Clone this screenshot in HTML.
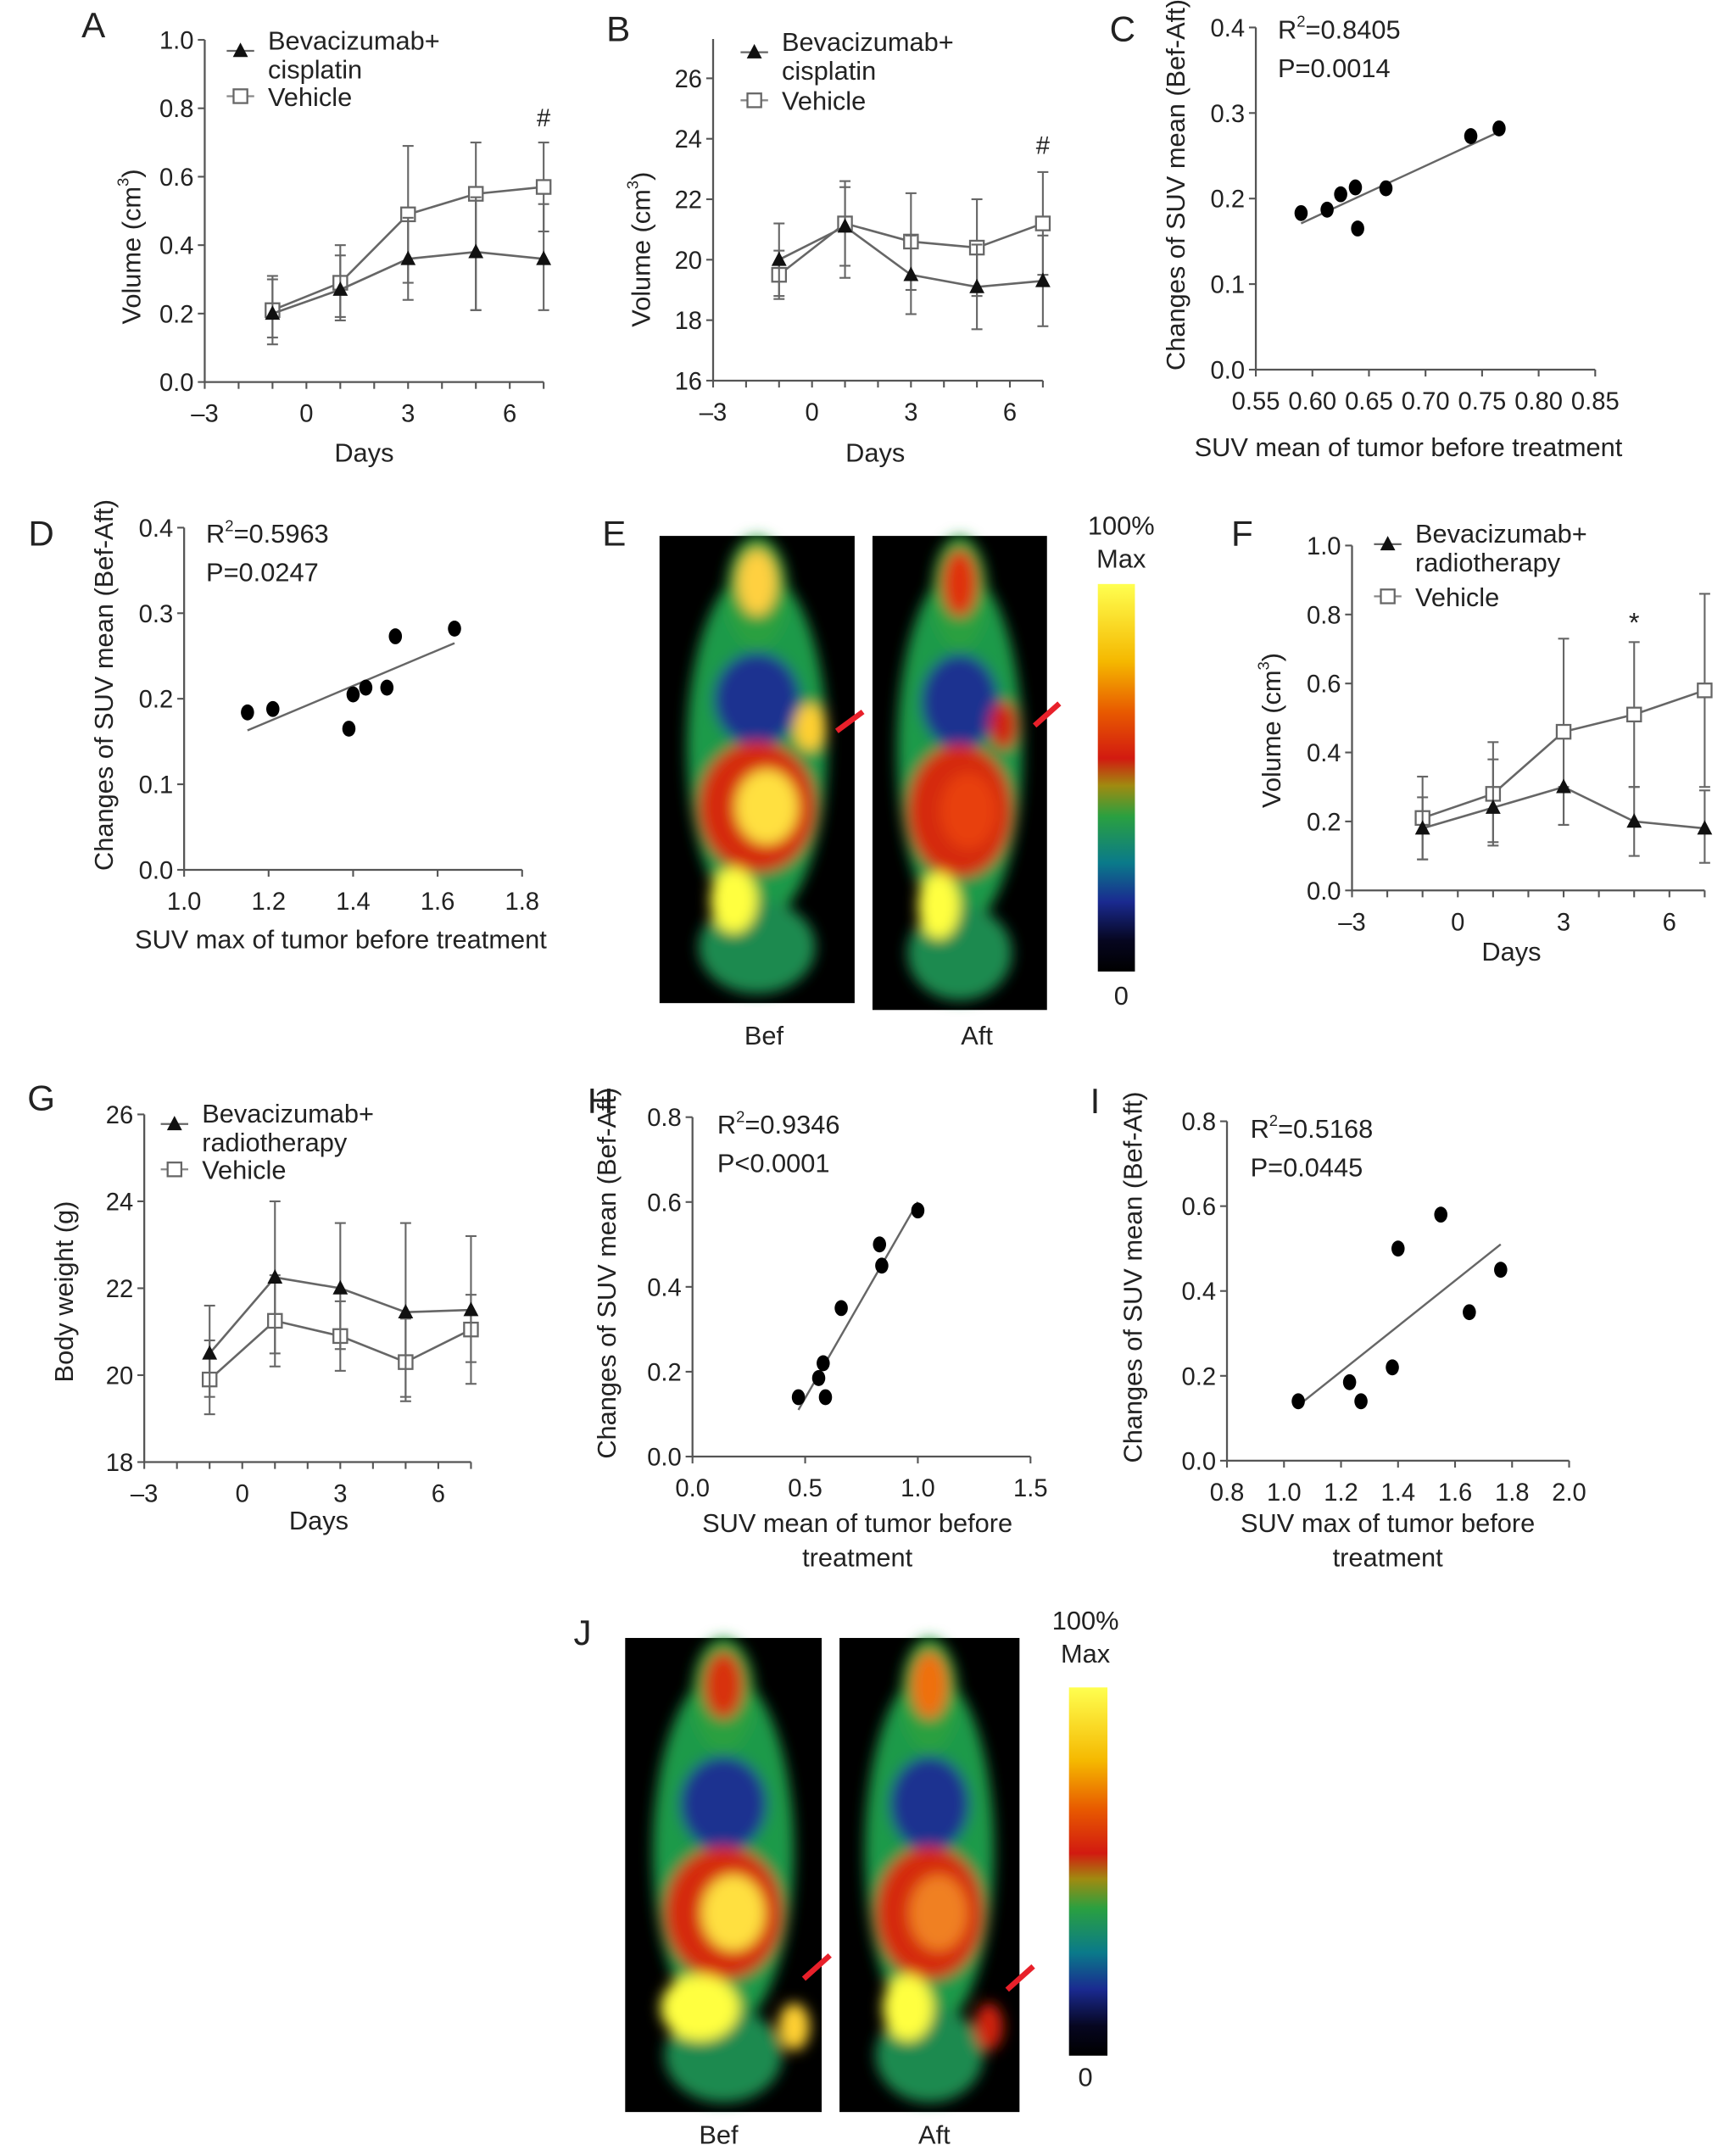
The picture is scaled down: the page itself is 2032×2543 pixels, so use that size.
<!DOCTYPE html>
<html><head><meta charset="utf-8"><style>
html,body{margin:0;padding:0;background:#fff}
svg{display:block}
text{font-family:"Liberation Sans",sans-serif;fill:#222}
</style></head><body>
<svg id="fig" xmlns="http://www.w3.org/2000/svg" width="2032" height="2543" viewBox="0 0 1254 1569" preserveAspectRatio="none">
<defs>
<linearGradient id="cbar" x1="0" y1="0" x2="0" y2="1">
<stop offset="0" stop-color="#ffff50"/><stop offset="0.2" stop-color="#f5b800"/><stop offset="0.33" stop-color="#e85a00"/><stop offset="0.45" stop-color="#d21a10"/><stop offset="0.52" stop-color="#a08a10"/><stop offset="0.6" stop-color="#2aa040"/><stop offset="0.72" stop-color="#0a7a8a"/><stop offset="0.82" stop-color="#1a2a90"/><stop offset="0.92" stop-color="#060620"/><stop offset="1" stop-color="#000"/>
</linearGradient>
<filter id="bl" x="-30%" y="-30%" width="160%" height="160%"><feGaussianBlur stdDeviation="5"/></filter>
</defs>
</svg>
<script>
// ---------- data ----------
const days = [-1, 1, 3, 5, 7];
const dayTicks = [-3, 0, 3, 6];
// Panel A
const aVehicle = [0.21, 0.29, 0.49, 0.55, 0.57];
const aVehicleUp = [0.30, 0.40, 0.69, 0.70, 0.70];
const aVehicleDn = [0.13, 0.19, 0.29, 0.21, 0.44];
const aBev = [0.20, 0.27, 0.36, 0.38, 0.36];
const aBevUp = [0.31, 0.37, 0.48, 0.54, 0.52];
const aBevDn = [0.11, 0.18, 0.24, 0.21, 0.21];
const aYTicks = [0.0, 0.2, 0.4, 0.6, 0.8, 1.0];
// Panel B
const bVehicle = [19.5, 21.2, 20.6, 20.4, 21.2];
const bVehicleUp = [20.3, 22.6, 22.2, 22.0, 22.9];
const bVehicleDn = [18.7, 19.8, 19.0, 18.8, 19.5];
const bBev = [20.0, 21.1, 19.5, 19.1, 19.3];
const bBevUp = [21.2, 22.4, 20.8, 20.5, 20.8];
const bBevDn = [18.8, 19.4, 18.2, 17.7, 17.8];
const bYTicks = [16, 18, 20, 22, 24, 26];
// Panel F
const fVehicle = [0.21, 0.28, 0.46, 0.51, 0.58];
const fVehicleUp = [0.33, 0.43, 0.73, 0.72, 0.86];
const fVehicleDn = [0.09, 0.13, 0.19, 0.30, 0.30];
const fBev = [0.18, 0.24, 0.30, 0.20, 0.18];
const fBevUp = [0.27, 0.38, 0.30, 0.30, 0.29];
const fBevDn = [0.09, 0.14, 0.19, 0.10, 0.08];
// Panel G
const gBev = [20.5, 22.25, 22.0, 21.45, 21.5];
const gBevUp = [21.6, 24.0, 23.5, 23.5, 23.2];
const gBevDn = [19.5, 20.5, 20.6, 19.5, 20.3];
const gVehicle = [19.9, 21.25, 20.9, 20.3, 21.05];
const gVehicleUp = [20.8, 22.3, 21.7, 21.3, 21.85];
const gVehicleDn = [19.1, 20.2, 20.1, 19.4, 19.8];
const gYTicks = [18, 20, 22, 24, 26];
// Panel C
const cX = [0.59, 0.613, 0.625, 0.638, 0.640, 0.665, 0.740, 0.765];
const cY = [0.183, 0.187, 0.205, 0.213, 0.165, 0.212, 0.273, 0.282];
const cFitX = [0.59, 0.765];
const cFitY = [0.171, 0.278];
const cXTicks = [0.55, 0.60, 0.65, 0.70, 0.75, 0.80, 0.85];
const suvYTicks4 = [0.0, 0.1, 0.2, 0.3, 0.4];
// Panel D
const dX = [1.15, 1.21, 1.39, 1.40, 1.43, 1.48, 1.50, 1.64];
const dY = [0.184, 0.188, 0.165, 0.205, 0.213, 0.213, 0.273, 0.282];
const dFitX = [1.15, 1.64];
const dFitY = [0.163, 0.265];
const dXTicks = [1.0, 1.2, 1.4, 1.6, 1.8];
// Panel H
const hX = [0.47, 0.56, 0.58, 0.59, 0.66, 0.83, 0.84, 1.00];
const hY = [0.14, 0.185, 0.22, 0.14, 0.35, 0.50, 0.45, 0.58];
const hFitX = [0.47, 1.0];
const hFitY = [0.11, 0.60];
const hXTicks = [0.0, 0.5, 1.0, 1.5];
const suvYTicks8 = [0.0, 0.2, 0.4, 0.6, 0.8];
// Panel I
const iX = [1.05, 1.23, 1.27, 1.38, 1.40, 1.55, 1.65, 1.76];
const iY = [0.14, 0.185, 0.14, 0.22, 0.50, 0.58, 0.35, 0.45];
const iFitX = [1.05, 1.76];
const iFitY = [0.13, 0.51];
const iXTicks = [0.8, 1.0, 1.2, 1.4, 1.6, 1.8, 2.0];

// ---------- helpers ----------
const svg = document.getElementById('fig');
const NS = 'http://www.w3.org/2000/svg';
function el(tag, attrs, name, parent) {
  const e = document.createElementNS(NS, tag);
  for (const k in attrs) e.setAttribute(k, attrs[k]);
  
  
  (parent || svg).appendChild(e);
  return e;
}
function txt(x, y, s, name, opts, parent) {
  const o = Object.assign({x: x, y: y, 'font-size': 18, 'text-anchor': 'middle'}, opts || {});
  const t = el('text', o, name, parent);
  t.textContent = s;
  return t;
}
function sup(x, y, base, supTxt, rest, name, size, parent) {
  const t = el('text', {x: x, y: y, 'font-size': size, 'text-anchor': 'start'}, name, parent);
  const a = document.createElementNS(NS, 'tspan'); a.textContent = base; t.appendChild(a);
  const b = document.createElementNS(NS, 'tspan'); b.setAttribute('font-size', size * 0.6); b.setAttribute('dy', -size * 0.45); b.textContent = supTxt; t.appendChild(b);
  const c = document.createElementNS(NS, 'tspan'); c.setAttribute('dy', size * 0.45); c.textContent = rest; t.appendChild(c);
  return t;
}
function axes(g, sx, sy, xmin, xmax, ymin, ymax, xt, yt, xfmt, yfmt, minorX) {
  el('line', {x1: sx(xmin), y1: sy(ymin), x2: sx(xmin), y2: sy(ymax), stroke: '#555', 'stroke-width': 1.4}, 'y-axis', g);
  el('line', {x1: sx(xmin), y1: sy(ymin), x2: sx(xmax), y2: sy(ymin), stroke: '#555', 'stroke-width': 1.4}, 'x-axis', g);
  yt.forEach(v => {
    el('line', {x1: sx(xmin) - 5, y1: sy(v), x2: sx(xmin), y2: sy(v), stroke: '#555', 'stroke-width': 1.3}, 'y-tick', g);
    txt(sx(xmin) - 8, sy(v) + 6.5, yfmt(v), 'y-tick-label', {'text-anchor': 'end'}, g);
  });
  (minorX || xt).forEach(v => {
    el('line', {x1: sx(v), y1: sy(ymin), x2: sx(v), y2: sy(ymin) + 5, stroke: '#555', 'stroke-width': 1.3}, 'x-tick', g);
  });
  xt.forEach(v => {
    txt(sx(v), sy(ymin) + 29, xfmt(v), 'x-tick-label', {}, g);
  });
}
function tri(g, x, y, name) {
  el('path', {d: `M${x} ${y - 6}L${x + 5.5} ${y + 4.5}L${x - 5.5} ${y + 4.5}Z`, fill: '#111'}, name, g);
}
function sq(g, x, y, name) {
  el('rect', {x: x - 5, y: y - 5, width: 10, height: 10, fill: '#fff', stroke: '#666', 'stroke-width': 1.4}, name, g);
}
function series(g, sx, sy, vals, up, dn, kind, name) {
  const pts = days.map((d, i) => sx(d) + ',' + sy(vals[i])).join(' ');
  el('polyline', {points: pts, fill: 'none', stroke: '#666', 'stroke-width': 1.6}, name + '-line', g);
  days.forEach((d, i) => {
    const x = sx(d);
    el('line', {x1: x, y1: sy(up[i]), x2: x, y2: sy(dn[i]), stroke: '#666', 'stroke-width': 1.3}, name + '-error-bar', g);
    el('line', {x1: x - 4, y1: sy(up[i]), x2: x + 4, y2: sy(up[i]), stroke: '#666', 'stroke-width': 1.3}, name + '-error-cap', g);
    el('line', {x1: x - 4, y1: sy(dn[i]), x2: x + 4, y2: sy(dn[i]), stroke: '#666', 'stroke-width': 1.3}, name + '-error-cap', g);
  });
  days.forEach((d, i) => {
    if (kind === 'tri') tri(g, sx(d), sy(vals[i]), name + '-point');
    else sq(g, sx(d), sy(vals[i]), name + '-point');
  });
}
function legend(g, x, y, l1, l2, vy) {
  el('line', {x1: x - 10, y1: y, x2: x + 10, y2: y, stroke: '#666', 'stroke-width': 1.4}, 'legend-line', g);
  tri(g, x, y, 'legend-marker-treatment');
  txt(x + 20, y - 1, l1, 'legend-label-treatment', {'text-anchor': 'start', 'font-size': 19}, g);
  txt(x + 20, y + 20, l2, 'legend-label-treatment-2', {'text-anchor': 'start', 'font-size': 19}, g);
  el('line', {x1: x - 10, y1: vy, x2: x + 10, y2: vy, stroke: '#888', 'stroke-width': 1.4}, 'legend-line', g);
  sq(g, x, vy, 'legend-marker-vehicle');
  txt(x + 20, vy + 7, 'Vehicle', 'legend-label-vehicle', {'text-anchor': 'start', 'font-size': 19}, g);
}
function ylab(g, x, y, s, name) {
  txt(x, y, s, name, {transform: `rotate(-90 ${x} ${y})`, 'font-size': 19}, g);
}
function lin(p0, v0, p1, v1) { return v => p0 + (v - v0) * (p1 - p0) / (v1 - v0); }
const f1 = v => v.toFixed(1), f2 = v => v.toFixed(2), f0 = v => String(v), fd = v => v < 0 ? '\u2013' + (-v) : String(v);
const minorDays = [-3, -2, -1, 0, 1, 2, 3, 4, 5, 6, 7];

function lineChart(name, letter, lx, ly, sx, sy, ymin, ymax, yt, yfmt, A, B, legendPos, legTxt, ylabelPos, ylabelTxt, daysPos) {
  const g = el('g', {}, name);
  txt(lx, ly, letter, 'panel-label', {'font-size': 26}, g);
  axes(g, sx, sy, -3, 7, ymin, ymax, dayTicks, yt, fd, yfmt, minorDays);
  series(g, sx, sy, A[0], A[1], A[2], 'sq', 'vehicle');
  series(g, sx, sy, B[0], B[1], B[2], 'tri', 'treatment');
  legend(g, legendPos[0], legendPos[1], 'Bevacizumab+', legTxt, legendPos[2]);
  if (ylabelTxt[1]) sup(0, 0, ylabelTxt[0], ylabelTxt[1], ylabelTxt[2], 'y-axis-title', 19, g).setAttribute('transform', `translate(${ylabelPos[0]} ${ylabelPos[1]}) rotate(-90)`);
  else ylab(g, ylabelPos[0], ylabelPos[1], ylabelTxt[0], 'y-axis-title');
  txt(daysPos[0], daysPos[1], 'Days', 'x-axis-title', {'font-size': 19}, g);
  return g;
}

// Panel A
{
  const sx = lin(149, -3, 371, 6), sy = lin(278, 0, 29, 1.0);
  const g = lineChart('panel-a', 'A', 68, 27, sx, sy, 0, 1.0, aYTicks, f1,
    [aVehicle, aVehicleUp, aVehicleDn], [aBev, aBevUp, aBevDn], [175, 37, 70], 'cisplatin',
    [102, 236], ['Volume (cm', '3', ')'], [265, 336]);
  txt(sx(7), 92, '#', 'significance-mark', {'font-size': 18}, g);
}
// Panel B
{
  const sx = lin(519, -3, 735, 6), sy = lin(277, 16, 57, 26);
  const g = lineChart('panel-b', 'B', 450, 30, sx, sy, 16, 27.3, bYTicks, f0,
    [bVehicle, bVehicleUp, bVehicleDn], [bBev, bBevUp, bBevDn], [549, 38, 73], 'cisplatin',
    [473, 238], ['Volume (cm', '3', ')'], [637, 336]);
  txt(sx(7), 112, '#', 'significance-mark', {'font-size': 18}, g);
}
// Panel F
{
  const sx = lin(984, -3, 1215, 6), sy = lin(648, 0, 397, 1.0);
  const g = lineChart('panel-f', 'F', 904, 397, sx, sy, 0, 1.0, aYTicks, f1,
    [fVehicle, fVehicleUp, fVehicleDn], [fBev, fBevUp, fBevDn], [1010, 396, 434], 'radiotherapy',
    [932, 588], ['Volume (cm', '3', ')'], [1100, 699]);
  txt(sx(5), 460, '*', 'significance-mark', {'font-size': 20}, g);
}
// Panel G
{
  const sx = lin(105, -3, 319, 6), sy = lin(1064, 18, 811, 26);
  lineChart('panel-g', 'G', 30, 808, sx, sy, 18, 26, gYTicks, f0,
    [gVehicle, gVehicleUp, gVehicleDn], [gBev, gBevUp, gBevDn], [127, 818, 851], 'radiotherapy',
    [53, 940], ['Body weight (g)'], [232, 1113]);
}

function scatter(name, letter, lpos, sx, sy, xmin, xmax, ymax, xt, yt, xfmt, X, Y, FX, FY, r2, p, tpos, ylx, xl, xlpos) {
  const g = el('g', {}, name);
  txt(lpos[0], lpos[1], letter, 'panel-label', {'font-size': 26}, g);
  axes(g, sx, sy, xmin, xmax, 0, ymax, xt, yt, xfmt, f1);
  el('line', {x1: sx(FX[0]), y1: sy(FY[0]), x2: sx(FX[1]), y2: sy(FY[1]), stroke: '#666', 'stroke-width': 1.5}, 'regression-line', g);
  X.forEach((x, i) => el('ellipse', {cx: sx(x), cy: sy(Y[i]), rx: 4.8, ry: 5.8, fill: '#000'}, 'data-point', g));
  sup(tpos[0], tpos[1], 'R', '2', '=' + r2, 'r-squared-label', 19, g);
  txt(tpos[0], tpos[1] + 28, p, 'p-value-label', {'text-anchor': 'start', 'font-size': 19}, g);
  ylab(g, ylx, sy(ymax / 2) - 10, 'Changes of SUV mean (Bef-Aft)', 'y-axis-title');
  xl.forEach((s, i) => txt(xlpos[0], xlpos[1] + i * 25, s, 'x-axis-title', {'font-size': 19}, g));
}
scatter('panel-c', 'C', [817, 30], lin(914, 0.55, 1161, 0.85), lin(269, 0, 20, 0.4), 0.55, 0.85, 0.4, cXTicks, suvYTicks4, f2,
  cX, cY, cFitX, cFitY, '0.8405', 'P=0.0014', [930, 28], 862, ['SUV mean of tumor before treatment'], [1025, 332]);
scatter('panel-d', 'D', [30, 397], lin(134, 1.0, 380, 1.8), lin(633, 0, 384, 0.4), 1.0, 1.8, 0.4, dXTicks, suvYTicks4, f1,
  dX, dY, dFitX, dFitY, '0.5963', 'P=0.0247', [150, 395], 82, ['SUV max of tumor before treatment'], [248, 690]);
scatter('panel-h', 'H', [437, 810], lin(504, 0, 750, 1.5), lin(1060, 0, 813, 0.8), 0, 1.5, 0.8, hXTicks, suvYTicks8, f1,
  hX, hY, hFitX, hFitY, '0.9346', 'P<0.0001', [522, 825], 448, ['SUV mean of tumor before', 'treatment'], [624, 1115]);
scatter('panel-i', 'I', [797, 810], lin(893, 0.8, 1142, 2.0), lin(1063, 0, 816, 0.8), 0.8, 2.0, 0.8, iXTicks, suvYTicks8, f1,
  iX, iY, iFitX, iFitY, '0.5168', 'P=0.0445', [910, 828], 831, ['SUV max of tumor before', 'treatment'], [1010, 1115]);

// ---------- PET images ----------
function mouse(g, x, y, w, h, variant) {
  el('rect', {x: x, y: y, width: w, height: h, fill: '#000'}, 'pet-background', g);
  const cx = x + w / 2;
  const blob = el('g', {filter: 'url(#bl)'}, 'pet-signal', g);
  el('ellipse', {cx: cx, cy: y + h * 0.45, rx: w * 0.36, ry: h * 0.38, fill: '#1c9a48'}, 'pet-body', blob);
  el('ellipse', {cx: cx, cy: y + h * 0.12, rx: w * 0.16, ry: h * 0.12, fill: '#2aa040'}, 'pet-head', blob);
  el('ellipse', {cx: cx, cy: y + h * 0.88, rx: w * 0.3, ry: h * 0.1, fill: '#1a8a50'}, 'pet-tail', blob);
  el('ellipse', {cx: cx, cy: y + h * 0.35, rx: w * 0.22, ry: h * 0.1, fill: '#1a3090'}, 'pet-chest', blob);
  el('ellipse', {cx: cx, cy: y + h * 0.58, rx: w * 0.3, ry: h * 0.14, fill: '#d52a10'}, 'pet-abdomen', blob);
  el('ellipse', {cx: cx + w * 0.05, cy: y + h * 0.58, rx: w * 0.16, ry: h * 0.08, fill: variant.abd}, 'pet-abdomen-core', blob);
  el('ellipse', {cx: cx - w * 0.12, cy: y + h * 0.78, rx: w * variant.bl, ry: h * 0.07, fill: '#ffff40'}, 'pet-bladder', blob);
  el('ellipse', {cx: cx, cy: y + h * 0.1, rx: w * 0.1, ry: h * 0.07, fill: variant.head}, 'pet-head-core', blob);
  el('ellipse', {cx: cx + w * variant.tx, cy: y + h * variant.ty, rx: w * 0.08, ry: h * 0.05, fill: variant.tumor}, 'pet-tumor', blob);
}
function arrow(g, x1, y1, x2, y2) {
  el('line', {x1: x1, y1: y1, x2: x2, y2: y2, stroke: '#e8202a', 'stroke-width': 4}, 'tumor-arrow', g);
}
function colorbar(g, x, y, w, h, tx, ty) {
  el('rect', {x: x, y: y, width: w, height: h, fill: 'url(#cbar)'}, 'colorbar', g);
  txt(tx, ty, '100%', 'colorbar-max-label', {'font-size': 19}, g);
  txt(tx, ty + 24, 'Max', 'colorbar-max-label-2', {'font-size': 19}, g);
}
{
  const g = el('g', {}, 'panel-e');
  txt(447, 397, 'E', 'panel-label', {'font-size': 26}, g);
  mouse(g, 480, 390, 142, 340, {abd: '#ffe040', bl: 0.12, head: '#ffd040', tumor: '#ffd030', tx: 0.27, ty: 0.41});
  mouse(g, 635, 390, 127, 345, {abd: '#e84010', bl: 0.12, head: '#e03010', tumor: '#d02010', tx: 0.25, ty: 0.4});
  arrow(g, 609, 532, 628, 518);
  arrow(g, 753, 528, 771, 512);
  colorbar(g, 799, 425, 27, 282, 816, 389);
  txt(816, 731, '0', 'colorbar-min-label', {'font-size': 19}, g);
  txt(556, 760, 'Bef', 'image-label-before', {'font-size': 19}, g);
  txt(711, 760, 'Aft', 'image-label-after', {'font-size': 19}, g);
}
{
  const g = el('g', {}, 'panel-j');
  txt(424, 1197, 'J', 'panel-label', {'font-size': 26}, g);
  mouse(g, 455, 1192, 143, 345, {abd: '#ffe040', bl: 0.2, head: '#d83010', tumor: '#ffd030', tx: 0.36, ty: 0.82});
  mouse(g, 611, 1192, 131, 345, {abd: '#f08020', bl: 0.14, head: '#f07010', tumor: '#d02010', tx: 0.33, ty: 0.82});
  arrow(g, 585, 1440, 604, 1423);
  arrow(g, 733, 1448, 752, 1431);
  colorbar(g, 778, 1228, 28, 268, 790, 1186);
  txt(790, 1518, '0', 'colorbar-min-label', {'font-size': 19}, g);
  txt(523, 1560, 'Bef', 'image-label-before', {'font-size': 19}, g);
  txt(680, 1560, 'Aft', 'image-label-after', {'font-size': 19}, g);
}
</script>
</body></html>
